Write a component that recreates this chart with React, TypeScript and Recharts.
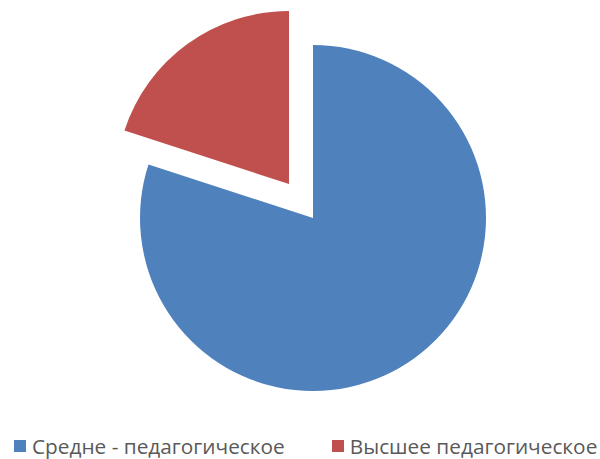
import React from 'react';
import { PieChart, Pie, Cell, Legend } from 'recharts';

const categories = ['Средне - педагогическое', 'Высшее педагогическое'];
const values = [80, 20];
const colors = ['#4F81BD', '#C0504D'];

const data = categories.map((name, i) => ({ name, value: values[i] }));

function LegendContent() {
  return (
    <div
      style={{
        display: 'flex',
        justifyContent: 'flex-start',
        gap: 47,
        fontFamily: '"Open Sans", sans-serif',
        fontSize: 20.8,
        lineHeight: '28px',
        color: '#595959',
        paddingLeft: 14,
      }}
    >
      {categories.map((c, i) => (
        <div key={c} style={{ display: 'flex', alignItems: 'center' }}>
          <span
            style={{
              display: 'inline-block',
              width: 12,
              height: 12,
              background: colors[i],
              marginRight: 6,
            }}
          />
          <span style={{ whiteSpace: 'nowrap' }}>{c}</span>
        </div>
      ))}
    </div>
  );
}

export default function App() {
  return (
    <div style={{ position: 'absolute', left: 0, top: 0, background: '#fff' }}>
      <PieChart width={600} height={459} margin={{ top: 0, right: 0, bottom: 0, left: 0 }}>
        <Pie
          data={data}
          dataKey="value"
          cx={313}
          cy={218}
          outerRadius={173}
          startAngle={90}
          endAngle={-270}
          stroke="none"
          isAnimationActive={false}
        >
          {data.map((d, i) => (
            <Cell key={d.name} fill={i === 0 ? colors[0] : 'transparent'} />
          ))}
        </Pie>
        <Pie
          data={data}
          dataKey="value"
          cx={289}
          cy={184}
          outerRadius={173}
          startAngle={90}
          endAngle={-270}
          stroke="none"
          isAnimationActive={false}
        >
          {data.map((d, i) => (
            <Cell key={d.name} fill={i === 1 ? colors[1] : 'transparent'} />
          ))}
        </Pie>
        <Legend
          verticalAlign="bottom"
          content={<LegendContent />}
          wrapperStyle={{ bottom: -1, left: 0, width: 600 }}
        />
      </PieChart>
    </div>
  );
}
